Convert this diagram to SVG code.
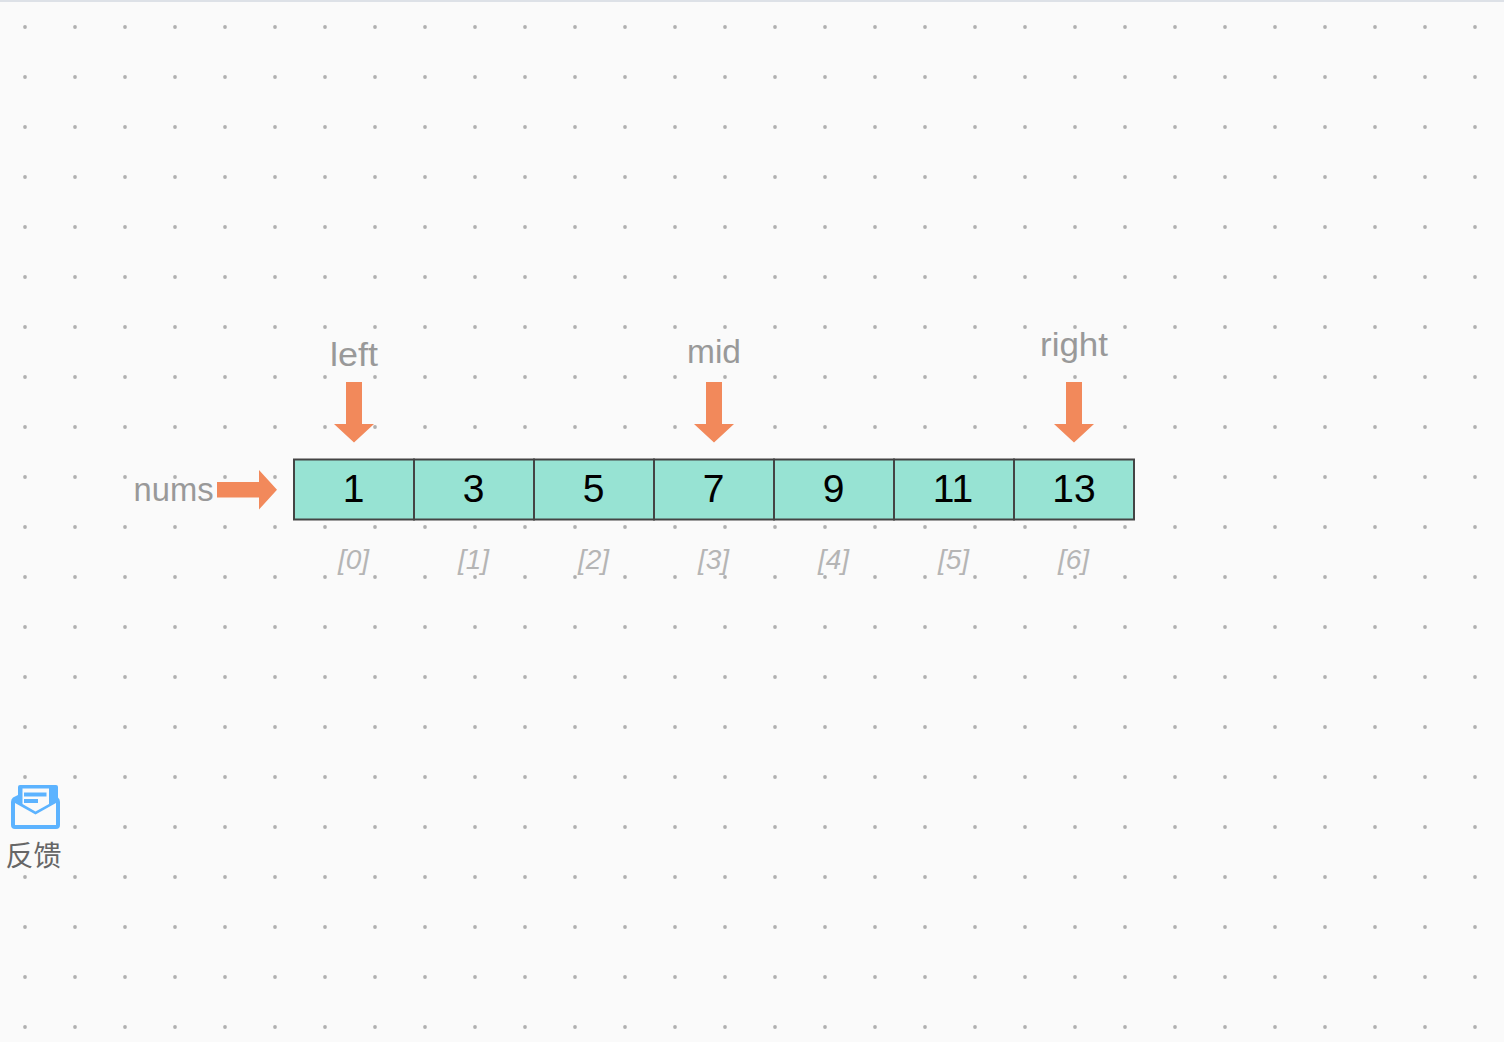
<svg xmlns="http://www.w3.org/2000/svg" width="1504" height="1042" viewBox="0 0 1504 1042">
<style>
.cell{fill:#97e3d3;stroke:#444;stroke-width:2}
.val{font:39px "Liberation Sans",Arial,sans-serif;fill:#000;text-anchor:middle}
.lab{font:33px "Liberation Sans",Arial,sans-serif;fill:#999;text-anchor:middle}
.idx{font:italic 28px "Liberation Sans",Arial,sans-serif;fill:#b5b5b5;text-anchor:middle}
.arr{fill:#f2895b}
</style>
<defs>
<pattern id="dots" x="0" y="2" width="50" height="50" patternUnits="userSpaceOnUse"><circle cx="25" cy="25" r="1.9" fill="#b0b0b0"/></pattern>
<path id="down" class="arr" d="M-8 0H8V42H20L0 60.500L-20 42H-8Z"/>
</defs>
<rect width="1504" height="1042" fill="#fafafa"/>
<rect width="1504" height="1042" fill="url(#dots)"/>
<rect width="1504" height="2" fill="#dde1e7"/>
<g id="connectors">
<path id="arrow-nums" class="arr" d="M217 482H259V470L277 489.700L259 509.500V497.400H217Z"/>
<use href="#down" x="354" y="382"/>
<use href="#down" x="714" y="382"/>
<use href="#down" x="1074" y="382"/>
</g>
<g id="cell-0"><rect class="cell" x="294" y="459.500" width="120" height="60"/><text class="val" x="353.500" y="502">1</text><text class="idx" x="353.500" y="569">[0]</text></g>
<g id="cell-1"><rect class="cell" x="414" y="459.500" width="120" height="60"/><text class="val" x="473.500" y="502">3</text><text class="idx" x="473.500" y="569">[1]</text></g>
<g id="cell-2"><rect class="cell" x="534" y="459.500" width="120" height="60"/><text class="val" x="593.500" y="502">5</text><text class="idx" x="593.500" y="569">[2]</text></g>
<g id="cell-3"><rect class="cell" x="654" y="459.500" width="120" height="60"/><text class="val" x="713.500" y="502">7</text><text class="idx" x="713.500" y="569">[3]</text></g>
<g id="cell-4"><rect class="cell" x="774" y="459.500" width="120" height="60"/><text class="val" x="833.500" y="502">9</text><text class="idx" x="833.500" y="569">[4]</text></g>
<g id="cell-5"><rect class="cell" x="894" y="459.500" width="120" height="60"/><text class="val" x="953" y="502">11</text><text class="idx" x="953.500" y="569">[5]</text></g>
<g id="cell-6"><rect class="cell" x="1014" y="459.500" width="120" height="60"/><text class="val" x="1074" y="502">13</text><text class="idx" x="1073.500" y="569">[6]</text></g>
<g id="label-nums"><text class="lab" x="173.500" y="501" textLength="80" lengthAdjust="spacingAndGlyphs">nums</text></g>
<g id="label-left"><text class="lab" x="354" y="366" textLength="48" lengthAdjust="spacingAndGlyphs">left</text></g>
<g id="label-mid"><text class="lab" x="714" y="363" textLength="54" lengthAdjust="spacingAndGlyphs">mid</text></g>
<g id="label-right"><text class="lab" x="1074" y="356" textLength="68" lengthAdjust="spacingAndGlyphs">right</text></g>
<g id="feedback">
<path d="M13 797.500Q11 799 11 802V825Q11 829 15 829H56Q60 829 60 825V802Q60 799 58 797.500V787Q58 785 56 785H20Q18 785 18 787V795Z" fill="#5cb3ff"/>
<path d="M22.500 788.500H49V804L35.500 811.500L22.500 804Z" fill="#fafafa"/>
<path d="M15 803L35.500 814.500L56 803V825H15Z" fill="#fafafa"/>
<path d="M24 792.500H46.500V796.500H24ZM24 799H38V803H24Z" fill="#5cb3ff"/>
<text x="33.500" y="866" font-family="'Noto Sans CJK SC','Liberation Sans',sans-serif" font-size="28" fill="#666" text-anchor="middle">反馈</text>
</g>
</svg>
